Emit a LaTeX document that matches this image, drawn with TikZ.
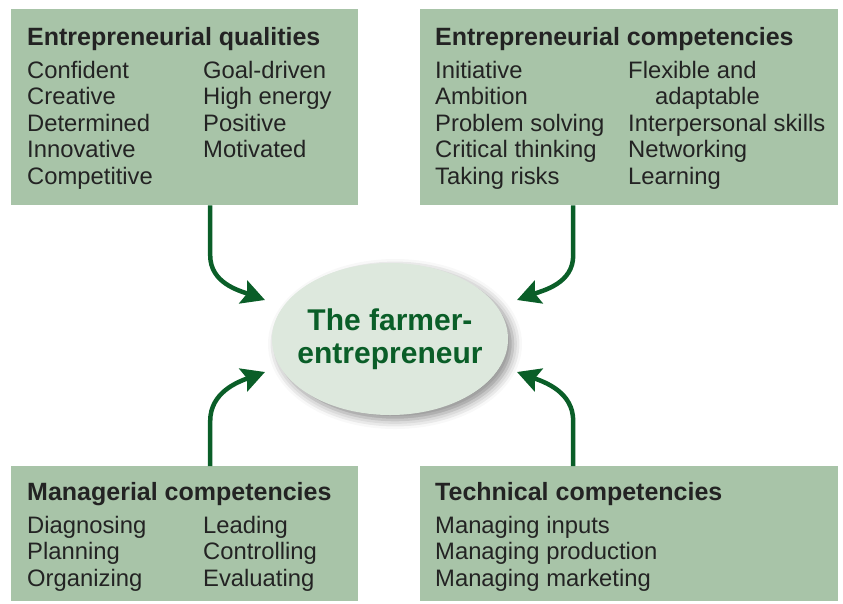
\documentclass[tikz,border=0pt]{standalone}
\usepackage{fontspec}
\setmainfont{Liberation Sans}
\usetikzlibrary{arrows.meta,shapes.geometric,shadows.blur}

\definecolor{boxgreen}{RGB}{168,196,168}
\definecolor{darkgreen}{RGB}{10,94,40}
\definecolor{ovalgreen}{RGB}{221,232,221}
\definecolor{inkgray}{RGB}{35,35,35}

\tikzset{
  box/.style={fill=boxgreen,anchor=north west,inner sep=0},
  head/.style={anchor=base west,inner sep=0,text=inkgray,
    font=\fontsize{25}{28}\selectfont\bfseries},
  item/.style={anchor=base west,inner sep=0,text=inkgray,
    font=\fontsize{23.8}{26}\selectfont},
  arr/.style={draw=darkgreen,line width=4.5pt,
    -{Stealth[length=23pt,width=24pt,inset=4pt]}}
}

\begin{document}
\begin{tikzpicture}[x=1pt,y=-1pt]
\useasboundingbox (0,0) rectangle (843,603);

% the four boxes
\node[box,minimum width=347pt,minimum height=196pt] (qualbox) at (11,9) {};
\node[box,minimum width=418pt,minimum height=196pt] (compbox) at (420,9) {};
\node[box,minimum width=347pt,minimum height=135pt] (mgmtbox) at (11,466) {};
\node[box,minimum width=418pt,minimum height=135pt] (techbox) at (420,466) {};

% headings
\node[head] (qualhead) at (27,45) {Entrepreneurial qualities};
\node[head] (comphead) at (435,45) {Entrepreneurial competencies};
\node[head] (mgmthead) at (27,500) {Managerial competencies};
\node[head] (techhead) at (435,500) {Technical competencies};

% lists
\foreach \t [count=\i] in {Confident,Creative,Determined,Innovative,Competitive}
  \node[item] (qa\i) at (27,{78+26.5*(\i-1)}) {\t};
\foreach \t [count=\i] in {Goal-driven,High energy,Positive,Motivated}
  \node[item] (qb\i) at (203,{78+26.5*(\i-1)}) {\t};
\foreach \t [count=\i] in {Initiative,Ambition,Problem solving,Critical thinking,Taking risks}
  \node[item] (ca\i) at (435,{78+26.5*(\i-1)}) {\t};
\foreach \t [count=\i] in {Flexible and,\hspace{27pt}adaptable,Interpersonal skills,Networking,Learning}
  \node[item] (cb\i) at (628,{78+26.5*(\i-1)}) {\t};
\foreach \t [count=\i] in {Diagnosing,Planning,Organizing}
  \node[item] (ma\i) at (27,{533+26.5*(\i-1)}) {\t};
\foreach \t [count=\i] in {Leading,Controlling,Evaluating}
  \node[item] (mb\i) at (203,{533+26.5*(\i-1)}) {\t};
\foreach \t [count=\i] in {Managing inputs,Managing production,Managing marketing}
  \node[item] (ta\i) at (435,{533+26.5*(\i-1)}) {\t};

% centre
\node[ellipse,fill=ovalgreen,minimum width=236pt,minimum height=152pt,inner sep=0,
  blur shadow={shadow xshift=5pt,shadow yshift=-5pt,shadow blur radius=9pt,shadow opacity=45}]
  (farmer) at (390,339) {};
\node[align=center,text=darkgreen,font=\fontsize{30}{33}\selectfont\bfseries]
  (farmertext) at (farmer.center) {The farmer-\\entrepreneur};

\coordinate (qualtip) at (265,300);
\coordinate (comptip) at (517,300);
\coordinate (mgmttip) at (265,372);
\coordinate (techtip) at (517,372);

\draw[arr] ([xshift=25.5pt]qualbox.south) -- ++(0,50) to[out=-90,in=160] (qualtip);
\draw[arr] ([xshift=-56pt]compbox.south) -- ++(0,50) to[out=-90,in=20] (comptip);
\draw[arr] ([xshift=25.5pt]mgmtbox.north) -- ++(0,-45) to[out=90,in=200] (mgmttip);
\draw[arr] ([xshift=-56pt]techbox.north) -- ++(0,-45) to[out=90,in=-20] (techtip);
\end{tikzpicture}
\end{document}
